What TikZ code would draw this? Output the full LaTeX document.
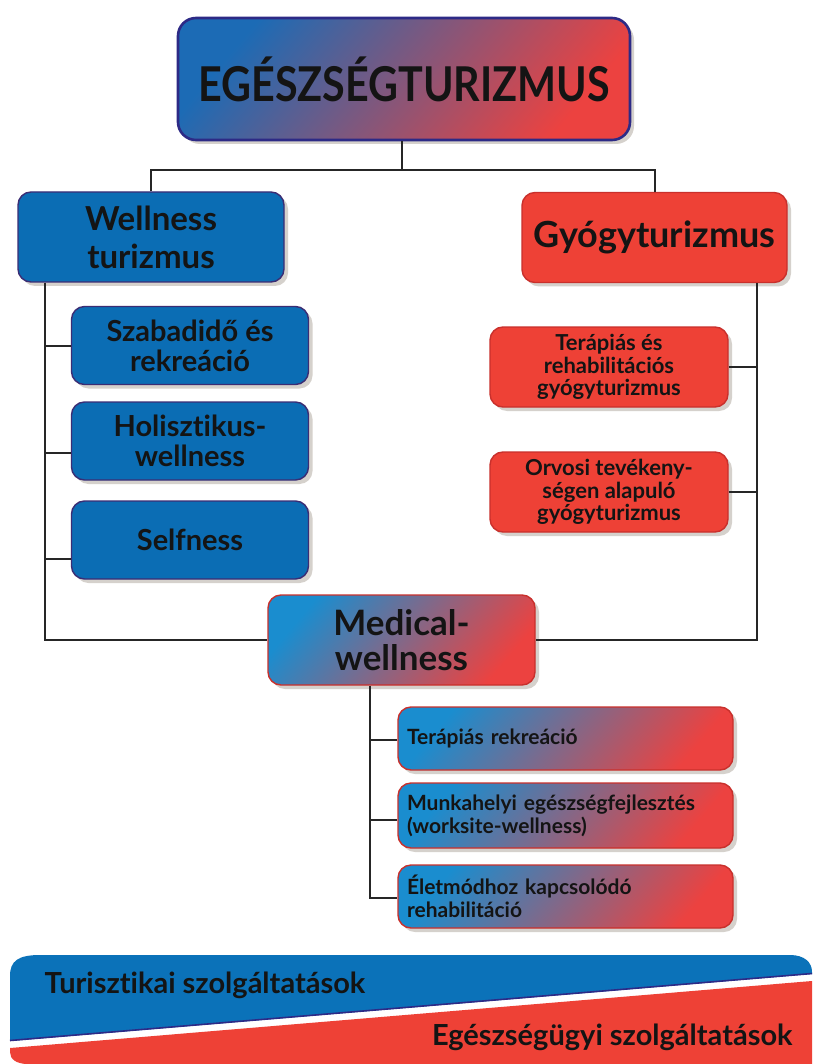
\documentclass[tikz,border=0pt]{standalone}
\usepackage{fontspec}
\setmainfont{Lato}[Ligatures=NoCommon]
\newfontfamily\titlefont{Lato}[FakeStretch=0.86, Ligatures=NoCommon]
\usetikzlibrary{shadows}
\definecolor{wblue}{HTML}{0B6DB4}
\definecolor{bandblue}{HTML}{0B72B9}
\definecolor{gred}{HTML}{EE4136}
\definecolor{bborder}{HTML}{3B2D74}
\definecolor{rborder}{HTML}{C9302C}
\definecolor{navy}{HTML}{2D2A86}
\definecolor{gblue}{HTML}{1C6BB5}
\definecolor{gcyan}{HTML}{1A8DCF}
\definecolor{gmid}{HTML}{7E4B87}
\definecolor{gredd}{HTML}{EC4240}
\definecolor{linec}{HTML}{262626}
\definecolor{shadowc}{HTML}{6B5A48}
\tikzset{
  box/.style={rounded corners=13pt, line width=1.4pt, inner sep=0pt, align=center,
    text=black!92, drop shadow={shadow xshift=4pt, shadow yshift=-4pt, opacity=0.28, fill=shadowc}},
  bluebox/.style={box, fill=wblue, draw=bborder},
  redbox/.style={box, fill=gred, draw=rborder},
  gradbox/.style={box, top color=gcyan, middle color=gmid, bottom color=gredd, shading angle=50, draw=rborder},
  titlebox/.style={box, rounded corners=18pt, top color=gblue, middle color=gmid, bottom color=gredd, shading angle=50, draw=navy, line width=2.6pt},
  conn/.style={draw=linec, line width=2pt},
}
\begin{document}
\begin{tikzpicture}[x=1pt, y=-1pt]
\useasboundingbox (0,0) rectangle (812,1064);
\fill[white] (0,0) rectangle (812,1064);

% title
\node[titlebox, minimum width=452pt, minimum height=122pt,
  font=\titlefont\bfseries\fontsize{48}{52}\selectfont] (title) at (404,79) {EGÉSZSÉGTURIZMUS};

% level 1
\node[bluebox, minimum width=266pt, minimum height=90pt,
  font=\bfseries\fontsize{33}{38}\selectfont] (wt) at (151,237) {Wellness\\turizmus};
\node[redbox, minimum width=265pt, minimum height=90pt,
  font=\bfseries\fontsize{36}{38}\selectfont] (gy) at (654.5,237.5) {Gyógyturizmus};

% wellness children
\node[bluebox, minimum width=237pt, minimum height=78pt,
  font=\bfseries\fontsize{29}{30}\selectfont] (sz) at (190,345.5) {Szabadidő és\\rekreáció};
\node[bluebox, minimum width=237pt, minimum height=78pt,
  font=\bfseries\fontsize{29}{30}\selectfont] (ho) at (190,441) {Holisztikus-\\wellness};
\node[bluebox, minimum width=237pt, minimum height=78pt,
  font=\bfseries\fontsize{29}{30}\selectfont] (se) at (190,540) {Selfness};

% gyogy children
\node[redbox, minimum width=238pt, minimum height=80pt,
  font=\bfseries\fontsize{22}{22.5}\selectfont] (te) at (609,367) {Terápiás és\\rehabilitációs\\gyógyturizmus};
\node[redbox, minimum width=238pt, minimum height=80pt,
  font=\bfseries\fontsize{22}{22.5}\selectfont] (or) at (609,492) {Orvosi tevékeny-\\ségen alapuló\\gyógyturizmus};

% medical wellness
\node[gradbox, minimum width=267pt, minimum height=90pt,
  font=\bfseries\fontsize{35}{35}\selectfont] (mw) at (401.5,640) {Medical-\\wellness};

\node[gradbox, minimum width=335pt, minimum height=63pt, text width=317pt, inner xsep=9pt, align=left,
  font=\bfseries\fontsize{21}{23}\selectfont] (tr) at (565.5,738.5) {Terápiás rekreáció};
\node[gradbox, minimum width=335pt, minimum height=65pt, text width=317pt, inner xsep=9pt, align=left,
  font=\bfseries\fontsize{21}{23}\selectfont] (mu) at (565.5,815.5) {Munkahelyi egészségfejlesztés\\(worksite-wellness)};
\node[gradbox, minimum width=335pt, minimum height=63pt, text width=317pt, inner xsep=9pt, align=left,
  font=\bfseries\fontsize{21}{23}\selectfont] (el) at (565.5,896.5) {Életmódhoz kapcsolódó\\rehabilitáció};

% connectors
\coordinate (j) at (402,170);
\coordinate (ls) at (45,282);
\coordinate (rs) at (757,282);
\coordinate (ms) at (370,685);
\draw[conn] (title.south -| j) -- (j);
\draw[conn] (wt.north) |- (j) -| (gy.north);
\draw[conn] (wt.south -| ls) |- (mw.west);
\draw[conn] (sz.west) -- (sz.west -| ls);
\draw[conn] ([yshift=-12pt]ho.west) -- ([yshift=-12pt]ho.west -| ls);
\draw[conn] ([yshift=-19pt]se.west) -- ([yshift=-19pt]se.west -| ls);
\draw[conn] (gy.south -| rs) |- (mw.east);
\draw[conn] (te.east) -- (te.east -| rs);
\draw[conn] (or.east) -- (or.east -| rs);
\draw[conn] (mw.south -| ms) |- ([yshift=-1.5pt]el.west);
\draw[conn] ([yshift=-1.5pt]tr.west) -- ([yshift=-1.5pt]tr.west -| ms);
\draw[conn] ([yshift=-4.5pt]mu.west) -- ([yshift=-4.5pt]mu.west -| ms);

% bottom band
\fill[bandblue] (10,1041) -- (10,976) .. controls (10,961) and (18,955) .. (40,955)
  -- (790,955) .. controls (804,955) and (812,962) .. (812,972) -- (812,974) -- cycle;
\fill[gred] (10,1048) -- (812,981) -- (812,1064) -- (28,1064)
  .. controls (16,1064) and (10,1059) .. (10,1052) -- cycle;
\draw[navy, line width=1.6pt] (10,1040.5) -- (812,973.5);
\node[anchor=base west, font=\bfseries\fontsize{29}{30}\selectfont, text=black!92] (ts) at (41,993) {Turisztikai szolgáltatások};
\node[anchor=base east, font=\bfseries\fontsize{29}{30}\selectfont, text=black!92] (es) at (796,1045) {Egészségügyi szolgáltatások};
\end{tikzpicture}
\end{document}
